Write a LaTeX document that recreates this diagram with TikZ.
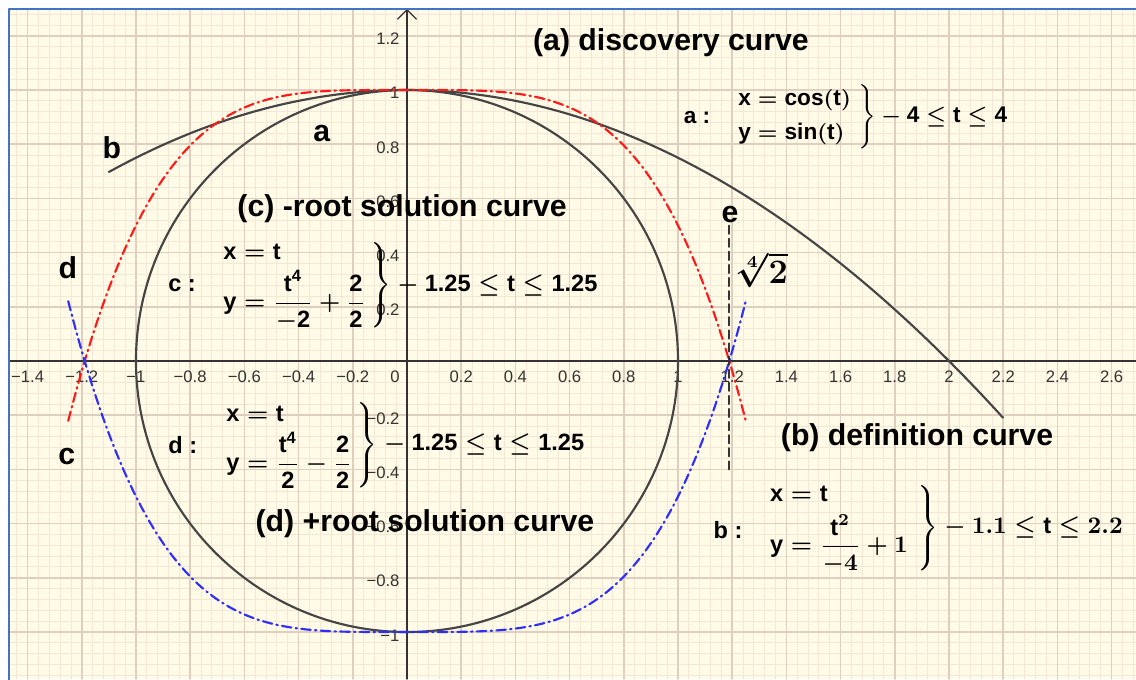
\documentclass[tikz,border=0pt]{standalone}
\usepackage{amsmath}
\usepackage{fontspec}
\setsansfont{Liberation Sans}
\usetikzlibrary{arrows.meta}
\definecolor{paper}{HTML}{FFFBE6}
\definecolor{gridminor}{HTML}{F4E7D7}
\definecolor{gridmajor}{HTML}{E0CFBF}
\definecolor{frameblue}{HTML}{4472C4}
\definecolor{axisgray}{HTML}{333333}
\definecolor{curvegray}{HTML}{454545}
\definecolor{rootred}{HTML}{FF1A1A}
\definecolor{rootblue}{HTML}{2E2EFF}
\begin{document}
\begin{tikzpicture}[x=4cm, y=4cm, line join=round, line cap=round, >={Straight Barb[length=4pt]},
	curve/.style={curvegray, line width=0.9pt},
	rootdash/.style={line width=0.9pt, dash pattern=on 4pt off 1.8pt on 0.6pt off 1.8pt},
	heading/.style={font=\sffamily\bfseries\fontsize{12.7}{15}\selectfont, inner sep=0},
	ticklabel/.style={font=\sffamily\fontsize{7}{8}\selectfont, text=axisgray, inner sep=0},
	formula/.style={font=\sffamily\bfseries\boldmath\fontsize{9.9}{11.9}\selectfont, inner sep=0},
	formulasmall/.style={font=\sffamily\bfseries\boldmath\fontsize{9.5}{11.4}\selectfont, inner sep=0}]
	\useasboundingbox (-1.5018,-1.1734) rectangle (2.69,1.3321);
	\fill[white] (-1.5018,-1.1734) rectangle (2.69,1.3321);
	\fill[paper] (-1.4686,-1.1734) rectangle (2.69,1.2989);
	\foreach \i in {-36,...,67}
		\draw[gridminor, line width=0.4pt] (\i*0.04,-1.1734) -- (\i*0.04,1.2989);
	\foreach \j in {-29,...,32}
		\draw[gridminor, line width=0.4pt] (-1.4686,\j*0.04) -- (2.69,\j*0.04);
	\foreach \i in {-7,...,13}
		\draw[gridmajor, line width=0.6pt] (\i*0.2,-1.1734) -- (\i*0.2,1.2989);
	\foreach \j in {-5,...,6}
		\draw[gridmajor, line width=0.6pt] (-1.4686,\j*0.2) -- (2.69,\j*0.2);
	\draw[axisgray, line width=0.5pt] (-1.4686,0) -- (2.69,0);
	\draw[axisgray, line width=0.5pt, ->] (0,-1.1734) -- (0,1.2989);
	\foreach \v/\lab [count=\k] in {-1.4/−1.4,-1.2/−1.2,-1/−1,-0.8/−0.8,-0.6/−0.6,-0.4/−0.4,-0.2/−0.2,0.2/0.2,0.4/0.4,0.6/0.6,0.8/0.8,1/1,1.2/1.2,1.4/1.4,1.6/1.6,1.8/1.8,2/2,2.2/2.2,2.4/2.4,2.6/2.6}
		\node[ticklabel] (xtick\k) at (\v,-0.059) {\lab};
	\node[ticklabel] (origin) at (-0.044,-0.059) {0};
	\foreach \v/\lab [count=\k] in {1.2/1.2,1/1,0.8/0.8,0.6/0.6,0.4/0.4,0.2/0.2,-0.2/−0.2,-0.4/−0.4,-0.6/−0.6,-0.8/−0.8,-1/−1}
		\node[ticklabel, anchor=east] (ytick\k) at (-0.026,\v-0.012) {\lab};
	\draw[curve] (0,0) circle[radius=1];
	\draw[curve] plot[domain=-1.1:2.2, samples=80, smooth] (\x,{1-\x*\x/4});
	\draw[rootdash, rootred] plot[domain=-1.25:1.25, samples=121, smooth] (\x,{1-\x*\x*\x*\x/2});
	\draw[rootdash, rootblue] plot[domain=-1.25:1.25, samples=121, smooth] (\x,{\x*\x*\x*\x/2-1});
	\coordinate (etop) at ({2^0.25},0.5);
	\coordinate (ebot) at ({2^0.25},-0.4);
	\draw[axisgray, line width=0.8pt, dash pattern=on 3.5pt off 2pt] (etop) -- (ebot);
	\node[heading] (elabel) at (1.192,0.539) {e};
	\node[font=\bfseries\boldmath\fontsize{13.5}{16}\selectfont, inner sep=0] (root) at (1.31,0.336) {$\sqrt[4]{2}$};
	\node[heading] (namea) at (-0.314,0.841) {a};
	\node[heading] (nameb) at (-1.089,0.786) {b};
	\node[heading] (named) at (-1.251,0.343) {d};
	\node[heading] (namec) at (-1.255,-0.354) {c};
	\node[heading] (titlea) at (0.974,1.173) {(a) discovery curve};
	\node[heading] (titlec) at (-0.018,0.561) {(c) -root solution curve};
	\node[heading] (titled) at (0.066,-0.601) {(d) +root solution curve};
	\node[heading] (titleb) at (1.882,-0.284) {(b) definition curve};
	\node[formulasmall] (alabel) at (1.070,0.900) {a :};
	\node[formulasmall, anchor=west] (aform) at (1.210,0.900) {$\left.\begin{array}{@{}l@{\hspace{3pt}}}\text{x}=\text{cos}(\text{t})\\[3pt]\text{y}=\text{sin}(\text{t})\end{array}\right\}-\text{4}\leq\text{t}\leq\text{4}$};
	\node[formula] (clabel) at (-0.830,0.280) {c :};
	\node[formula, anchor=west] (cform) at (-0.690,0.280) {$\left.\begin{array}{@{}l@{\hspace{2pt}}}\text{x}=\text{t}\\[1pt]\text{y}=\dfrac{\text{t}^{\text{4}}}{-\text{2}}+\dfrac{\text{2}}{\text{2}}\end{array}\right\}-\text{1.25}\leq\text{t}\leq\text{1.25}$};
	\node[formula] (dlabel) at (-0.827,-0.310) {d :};
	\node[formula, anchor=west] (dform) at (-0.679,-0.310) {$\left.\begin{array}{@{}l@{\hspace{2pt}}}\text{x}=\text{t}\\[1pt]\text{y}=\dfrac{\text{t}^{\text{4}}}{\text{2}}-\dfrac{\text{2}}{\text{2}}\end{array}\right\}-\text{1.25}\leq\text{t}\leq\text{1.25}$};
	\node[formula] (blabel) at (1.185,-0.624) {b :};
	\node[formula, anchor=west] (bform) at (1.328,-0.616) {$\left.\begin{array}{@{}l@{\hspace{4pt}}}\text{x}=\text{t}\\[2pt]\text{y}=\dfrac{\text{t}^2}{-4}+1\end{array}\right\}-1.1\leq\text{t}\leq 2.2$};
	\draw[frameblue, line width=1pt, line cap=rect] (-1.4686,-1.1734) -- (-1.4686,1.2989) -- (2.69,1.2989);
\end{tikzpicture}
\end{document}
